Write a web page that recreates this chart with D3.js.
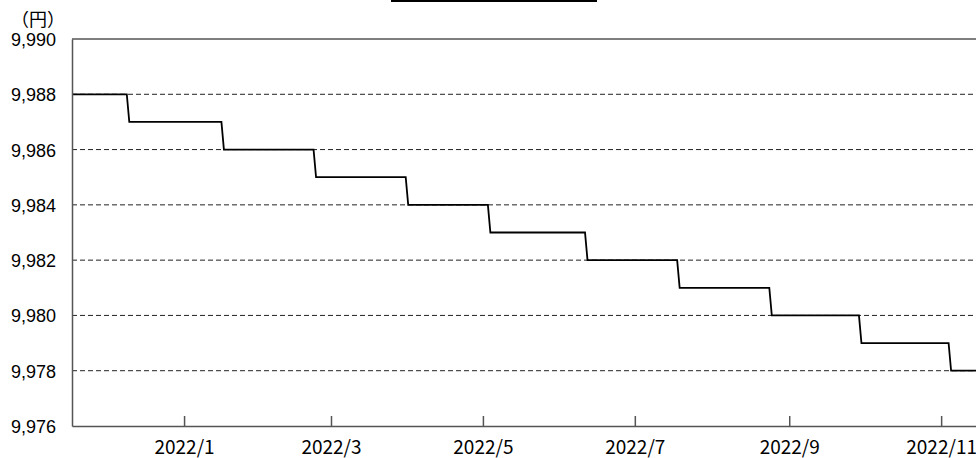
<!DOCTYPE html>
<html>
<head>
<meta charset="utf-8">
<script src="https://cdn.jsdelivr.net/npm/d3@7"></script>
<style>
  body { margin: 0; background: #fff; }
  svg { display: block; }
</style>
</head>
<body>
<svg id="chart" width="976" height="458"></svg>
<script>
// daily NAV points (yen), only the points where the level changes
const dates = [
  "2021-11-17", "2021-12-09", "2021-12-10", "2022-01-16", "2022-01-17",
  "2022-02-22", "2022-02-23", "2022-03-31", "2022-04-01", "2022-05-03",
  "2022-05-04", "2022-06-11", "2022-06-12", "2022-07-18", "2022-07-19",
  "2022-08-24", "2022-08-25", "2022-09-29", "2022-09-30", "2022-11-04",
  "2022-11-05", "2022-11-15"
];
const navs = [
  9988, 9988, 9987, 9987, 9986,
  9986, 9985, 9985, 9984, 9984,
  9983, 9983, 9982, 9982, 9981,
  9981, 9980, 9980, 9979, 9979,
  9978, 9978
];
const yTicks = [9976, 9978, 9980, 9982, 9984, 9986, 9988, 9990];
const gridTicks = [9978, 9980, 9982, 9984, 9986, 9988];
const unitLabel = "（円）";

(function () {
  const parse = d3.timeParse("%Y-%m-%d");
  const data = dates.map((d, i) => ({ date: parse(d), v: navs[i] }));

  const pl = 72, pr = 976, pt = 39, pb = 426;
  const svg = d3.select("#chart");

  const x = d3.scaleTime()
    .domain([parse("2021-11-17"), parse("2022-11-15")])
    .range([pl, pr]);
  const y = d3.scaleLinear().domain([9976, 9990]).range([pb, pt]);

  // title bar (clipped at top)
  svg.append("rect").attr("x", 391).attr("y", 0).attr("width", 206).attr("height", 2).attr("fill", "#000");

  // dashed grid
  svg.append("g").selectAll("line").data(gridTicks).join("line")
    .attr("x1", pl).attr("x2", pr)
    .attr("y1", d => y(d)).attr("y2", d => y(d))
    .attr("stroke", "#222").attr("stroke-width", 1)
    .attr("stroke-dasharray", "5,3");

  // top border
  svg.append("line").attr("x1", pl).attr("x2", pr).attr("y1", pt).attr("y2", pt)
    .attr("stroke", "#555").attr("stroke-width", 1.5);

  // step line
  svg.append("clipPath").attr("id", "clip").append("rect")
    .attr("x", pl).attr("y", pt - 5).attr("width", pr - pl).attr("height", pb - pt + 10);
  const line = d3.line().x(d => x(d.date)).y(d => y(d.v));
  svg.append("path").datum(data)
    .attr("clip-path", "url(#clip)")
    .attr("d", line)
    .attr("fill", "none").attr("stroke", "#000").attr("stroke-width", 1.8);

  // y axis
  const yAxis = svg.append("g").attr("transform", `translate(${pl},0)`)
    .call(d3.axisLeft(y).tickValues(yTicks).tickSize(0).tickPadding(16).tickFormat(d3.format(",")));
  yAxis.select(".domain").attr("stroke", "#555").attr("stroke-width", 1.5);
  yAxis.selectAll("text")
    .attr("font-family", "'Liberation Sans', Arial, sans-serif")
    .attr("font-size", 18).attr("fill", "#000").attr("dy", "0.36em");

  // x axis
  const xAxis = svg.append("g").attr("transform", `translate(0,${pb})`)
    .call(d3.axisBottom(x).ticks(d3.timeMonth.every(2)).tickSizeInner(-10).tickSizeOuter(0)
      .tickFormat(d3.timeFormat("%Y/%-m")));
  xAxis.select(".domain").attr("stroke", "#555").attr("stroke-width", 1.5);
  xAxis.selectAll(".tick line").attr("stroke", "#555").attr("stroke-width", 1.5);
  xAxis.selectAll("text")
    .attr("font-family", "'Noto Sans CJK JP', sans-serif")
    .attr("font-size", 19).attr("fill", "#000")
    .attr("y", 28).attr("dy", 0);

  // unit label
  svg.append("text").attr("x", 38).attr("y", 26).attr("text-anchor", "middle")
    .attr("font-family", "'Noto Sans CJK JP', sans-serif").attr("font-size", 18)
    .text(unitLabel);
})();
</script>
</body>
</html>
